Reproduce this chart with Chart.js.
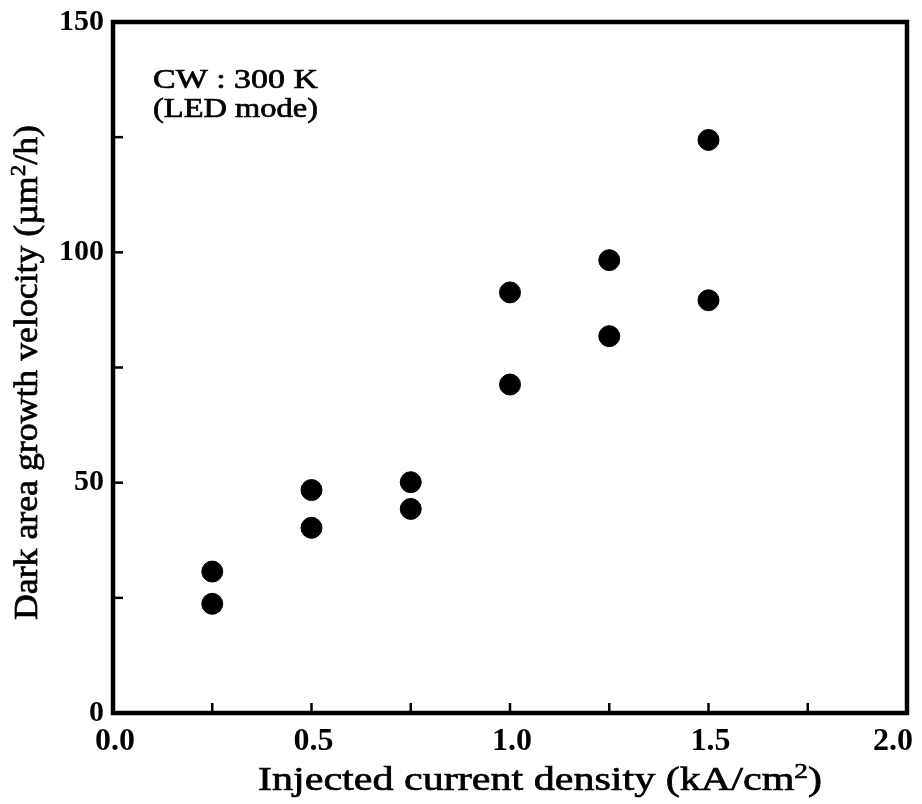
<!DOCTYPE html>
<html>
<head>
<meta charset="utf-8">
<script src="https://cdn.jsdelivr.net/npm/chart.js@4"></script>
<style>
  html, body { margin: 0; padding: 0; background: #fff; }
  #wrap { width: 922px; height: 804px; }
</style>
</head>
<body>
<div id="wrap"><canvas id="scatterChart" width="922" height="804"></canvas></div>
<script>
// data
const currentDensity = [0.25, 0.25, 0.5, 0.5, 0.75, 0.75, 1.0, 1.0, 1.25, 1.25, 1.5, 1.5];
const growthVelocity = [30.7, 23.7, 48.4, 40.2, 50.1, 44.3, 91.3, 71.3, 98.3, 81.8, 124.4, 89.6];
const xTickLabels = ['0.0', '0.5', '1.0', '1.5', '2.0'];
const yTickLabels = ['0', '50', '100', '150'];
const noteLines = ['CW : 300 K', '(LED mode)'];
// title pieces: [text, superscript?]
const xTitleParts = [['Injected current density (kA/cm', false], ['2', true], [')', false]];
const yTitleParts = [['Dark area growth velocity (\u00b5m', false], ['2', true], ['/h)', false]];

const SERIF = '"Liberation Serif", "Times New Roman", serif';

// draw a run of text pieces (with superscripts), stretched to a given width
function drawParts(ctx, parts, size, width) {
  const sup = Math.round(size * 0.66);
  let natural = 0;
  parts.forEach(p => {
    ctx.font = (p[1] ? sup : size) + 'px ' + SERIF;
    natural += ctx.measureText(p[0]).width;
  });
  const k = width / natural;
  ctx.scale(k, 1);
  let x = 0;
  parts.forEach(p => {
    ctx.font = (p[1] ? sup : size) + 'px ' + SERIF;
    const y = p[1] ? -size * 0.36 : 0;
    ctx.fillText(p[0], x, y);
    ctx.strokeText(p[0], x, y);
    x += ctx.measureText(p[0]).width;
  });
}

/* ================= FRAME, TICKS, TEXT ================= */
const framePlugin = {
  id: 'frame',
  afterDraw(chart) {
    const ctx = chart.ctx;
    const a = chart.chartArea;
    const xs = chart.scales.x, ys = chart.scales.y;
    ctx.save();
    ctx.strokeStyle = '#000';
    ctx.fillStyle = '#000';
    ctx.lineWidth = 2.5;
    xs.ticks.forEach(t => {
      const px = xs.getPixelForValue(t.value);
      ctx.beginPath(); ctx.moveTo(px, a.bottom); ctx.lineTo(px, a.bottom - 10); ctx.stroke();
    });
    ys.ticks.forEach(t => {
      const py = ys.getPixelForValue(t.value);
      ctx.beginPath(); ctx.moveTo(a.left, py); ctx.lineTo(a.left + 10, py); ctx.stroke();
    });
    ctx.lineWidth = 4.5;
    ctx.strokeRect(a.left, a.top, a.right - a.left, a.bottom - a.top);

    // x tick labels (every 0.5), last one kept inside the canvas
    ctx.font = 'bold 32px ' + SERIF;
    ctx.textBaseline = 'alphabetic';
    xs.ticks.forEach(t => {
      const i = Math.round(t.value / 0.5);
      if (Math.abs(t.value - i * 0.5) > 1e-6) return;
      const label = xTickLabels[i];
      const w = ctx.measureText(label).width;
      let cx = xs.getPixelForValue(t.value) + 2;
      cx = Math.min(cx, chart.width - 9 - w / 2);
      ctx.fillText(label, cx - w / 2, a.bottom + 37);
    });

    ctx.lineWidth = 0.7;

    // note in upper left
    ctx.save();
    ctx.translate(a.left + 40, a.top + 66);
    drawParts(ctx, [[noteLines[0], false]], 28, 165);
    ctx.restore();
    ctx.save();
    ctx.translate(a.left + 40, a.top + 95);
    drawParts(ctx, [[noteLines[1], false]], 28, 165);
    ctx.restore();

    // x axis title
    ctx.save();
    ctx.translate(258, 790);
    drawParts(ctx, xTitleParts, 34, 564);
    ctx.restore();

    // y axis title
    ctx.save();
    ctx.translate(37, 620);
    ctx.rotate(-Math.PI / 2);
    drawParts(ctx, yTitleParts, 34, 495);
    ctx.restore();

    ctx.restore();
  }
};

const ctx = document.getElementById('scatterChart');

new Chart(ctx, {
  type: 'scatter',
  data: {
    datasets: [{
      data: currentDensity.map((x, i) => ({ x: x, y: growthVelocity[i] })),
      backgroundColor: '#000',
      borderColor: '#000',
      pointRadius: 10.5,
      pointHoverRadius: 10.5
    }]
  },
  options: {
    responsive: false,
    animation: false,
    layout: { padding: { top: 22, right: 15, left: 0, bottom: 0 } },
    plugins: {
      legend: { display: false },
      tooltip: { enabled: false }
    },
    scales: {
      x: {
        type: 'linear',
        min: 0, max: 2,
        grid: { display: false, drawTicks: false },
        border: { display: false },
        ticks: { stepSize: 0.25, autoSkip: false, display: false },
        afterFit: s => { s.height = 91; s.paddingLeft = 0; s.paddingRight = 0; }
      },
      y: {
        type: 'linear',
        min: 0, max: 150,
        grid: { display: false, drawTicks: false },
        border: { display: false },
        ticks: {
          stepSize: 25,
          autoSkip: false,
          padding: 9,
          color: '#000',
          font: { family: SERIF, size: 30, weight: 'bold' },
          callback: v => (v % 50 === 0 ? yTickLabels[v / 50] : '')
        },
        afterFit: s => { s.width = 113; s.paddingTop = 0; s.paddingBottom = 0; }
      }
    }
  },
  plugins: [framePlugin]
});
</script>
</body>
</html>
